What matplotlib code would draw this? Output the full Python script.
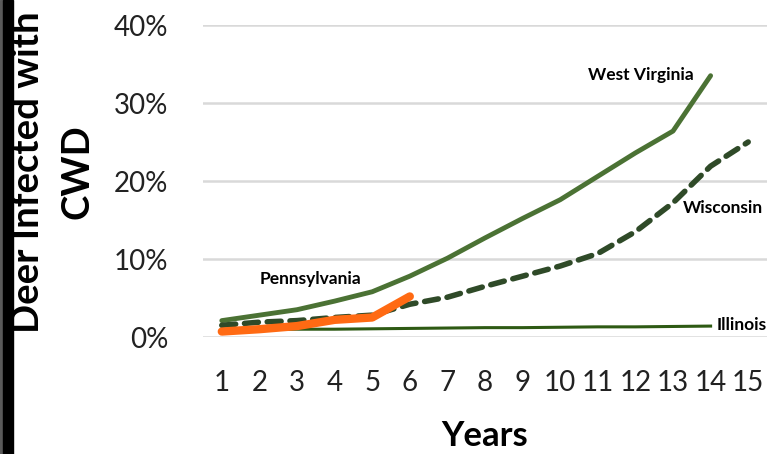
import numpy as np
import matplotlib.pyplot as plt
from matplotlib.patches import Rectangle

# values (percent of deer infected)
years = list(range(1, 16))
west_virginia = [2.1, 2.8, 3.5, 4.6, 5.8, 7.8, 10.1, 12.7, 15.2, 17.6, 20.6, 23.6, 26.4, 33.5]
wisconsin = [1.5, 1.9, 2.1, 2.5, 2.8, 4.2, 5.1, 6.5, 7.8, 9.1, 10.7, 13.5, 17.2, 21.9, 25.0]
illinois = [0.9, 0.95, 1.0, 1.0, 1.05, 1.1, 1.15, 1.2, 1.2, 1.25, 1.3, 1.3, 1.35, 1.4]
pennsylvania = [0.7, 1.0, 1.4, 2.2, 2.5, 5.2]

yticks = [0, 10, 20, 30, 40]
ytick_labels = ['0%', '10%', '20%', '30%', '40%']

plt.rcParams['font.family'] = ['Lato', 'DejaVu Sans']

fig = plt.figure(figsize=(7.73, 4.54), dpi=100)
ax = fig.add_axes([203 / 773, 1 - 337 / 454, 564 / 773, 312 / 454])

ax.plot(years[:len(illinois)], illinois, color='#2e5a14', lw=2.2, zorder=3)
ax.plot(years[:len(west_virginia)], west_virginia, color='#4b7234', lw=3.5,
        solid_capstyle='round', solid_joinstyle='round', zorder=4)
ax.plot(years[:len(wisconsin)], wisconsin, color='#2f4a28', lw=4, ls=(0, (2.5, 1.6)),
        dash_capstyle='round', zorder=4)
ax.plot(years[:len(pennsylvania)], pennsylvania, color='#ff6a13', lw=6,
        solid_capstyle='round', solid_joinstyle='round', zorder=5)

ax.set_xlim(0.5, 15.5)
ax.set_ylim(0, 40)
ax.set_xticks(years)
ax.set_xticklabels([str(y) for y in years], fontsize=20, color='#222222')
ax.set_yticks(yticks)
ax.set_yticklabels(ytick_labels, fontsize=20, color='#222222')
ax.tick_params(length=0)
ax.tick_params(axis='x', pad=24)
ax.tick_params(axis='y', pad=25)
ax.grid(axis='y', color='#d9d9d9', lw=1.8, zorder=0)
for s in ax.spines.values():
    s.set_visible(False)

# series labels
ax.text(3.35, 7.4, 'Pennsylvania', fontsize=12.5, fontweight='bold', ha='center', va='center')
ax.text(12.15, 33.6, 'West Virginia', fontsize=12.5, fontweight='bold', ha='center', va='center')
ax.text(14.33, 16.5, 'Wisconsin', fontsize=12.5, fontweight='bold', ha='center', va='center')
ax.text(14.15, 1.5, 'Illinois', fontsize=12.5, fontweight='bold', ha='left', va='center')

fig.text(485 / 773, 1 - 436 / 454, 'Years', fontsize=25, fontweight='bold',
         ha='center', va='center')
fig.text(28 / 773, 1 - 172 / 454, 'Deer Infected with', fontsize=27.5, fontweight='bold',
         rotation=90, ha='center', va='center')
fig.text(78 / 773, 1 - 172 / 454, 'CWD', fontsize=27.5, fontweight='bold',
         rotation=90, ha='center', va='center')

# dark strip on the left edge
fig.patches.append(Rectangle((0, 0), 3 / 773, 1, transform=fig.transFigure,
                             color='#5a5a5a', zorder=10))
fig.patches.append(Rectangle((3 / 773, 0), 10 / 773, 1, transform=fig.transFigure,
                             color='black', zorder=10))

fig.savefig('out.png', dpi=100)
